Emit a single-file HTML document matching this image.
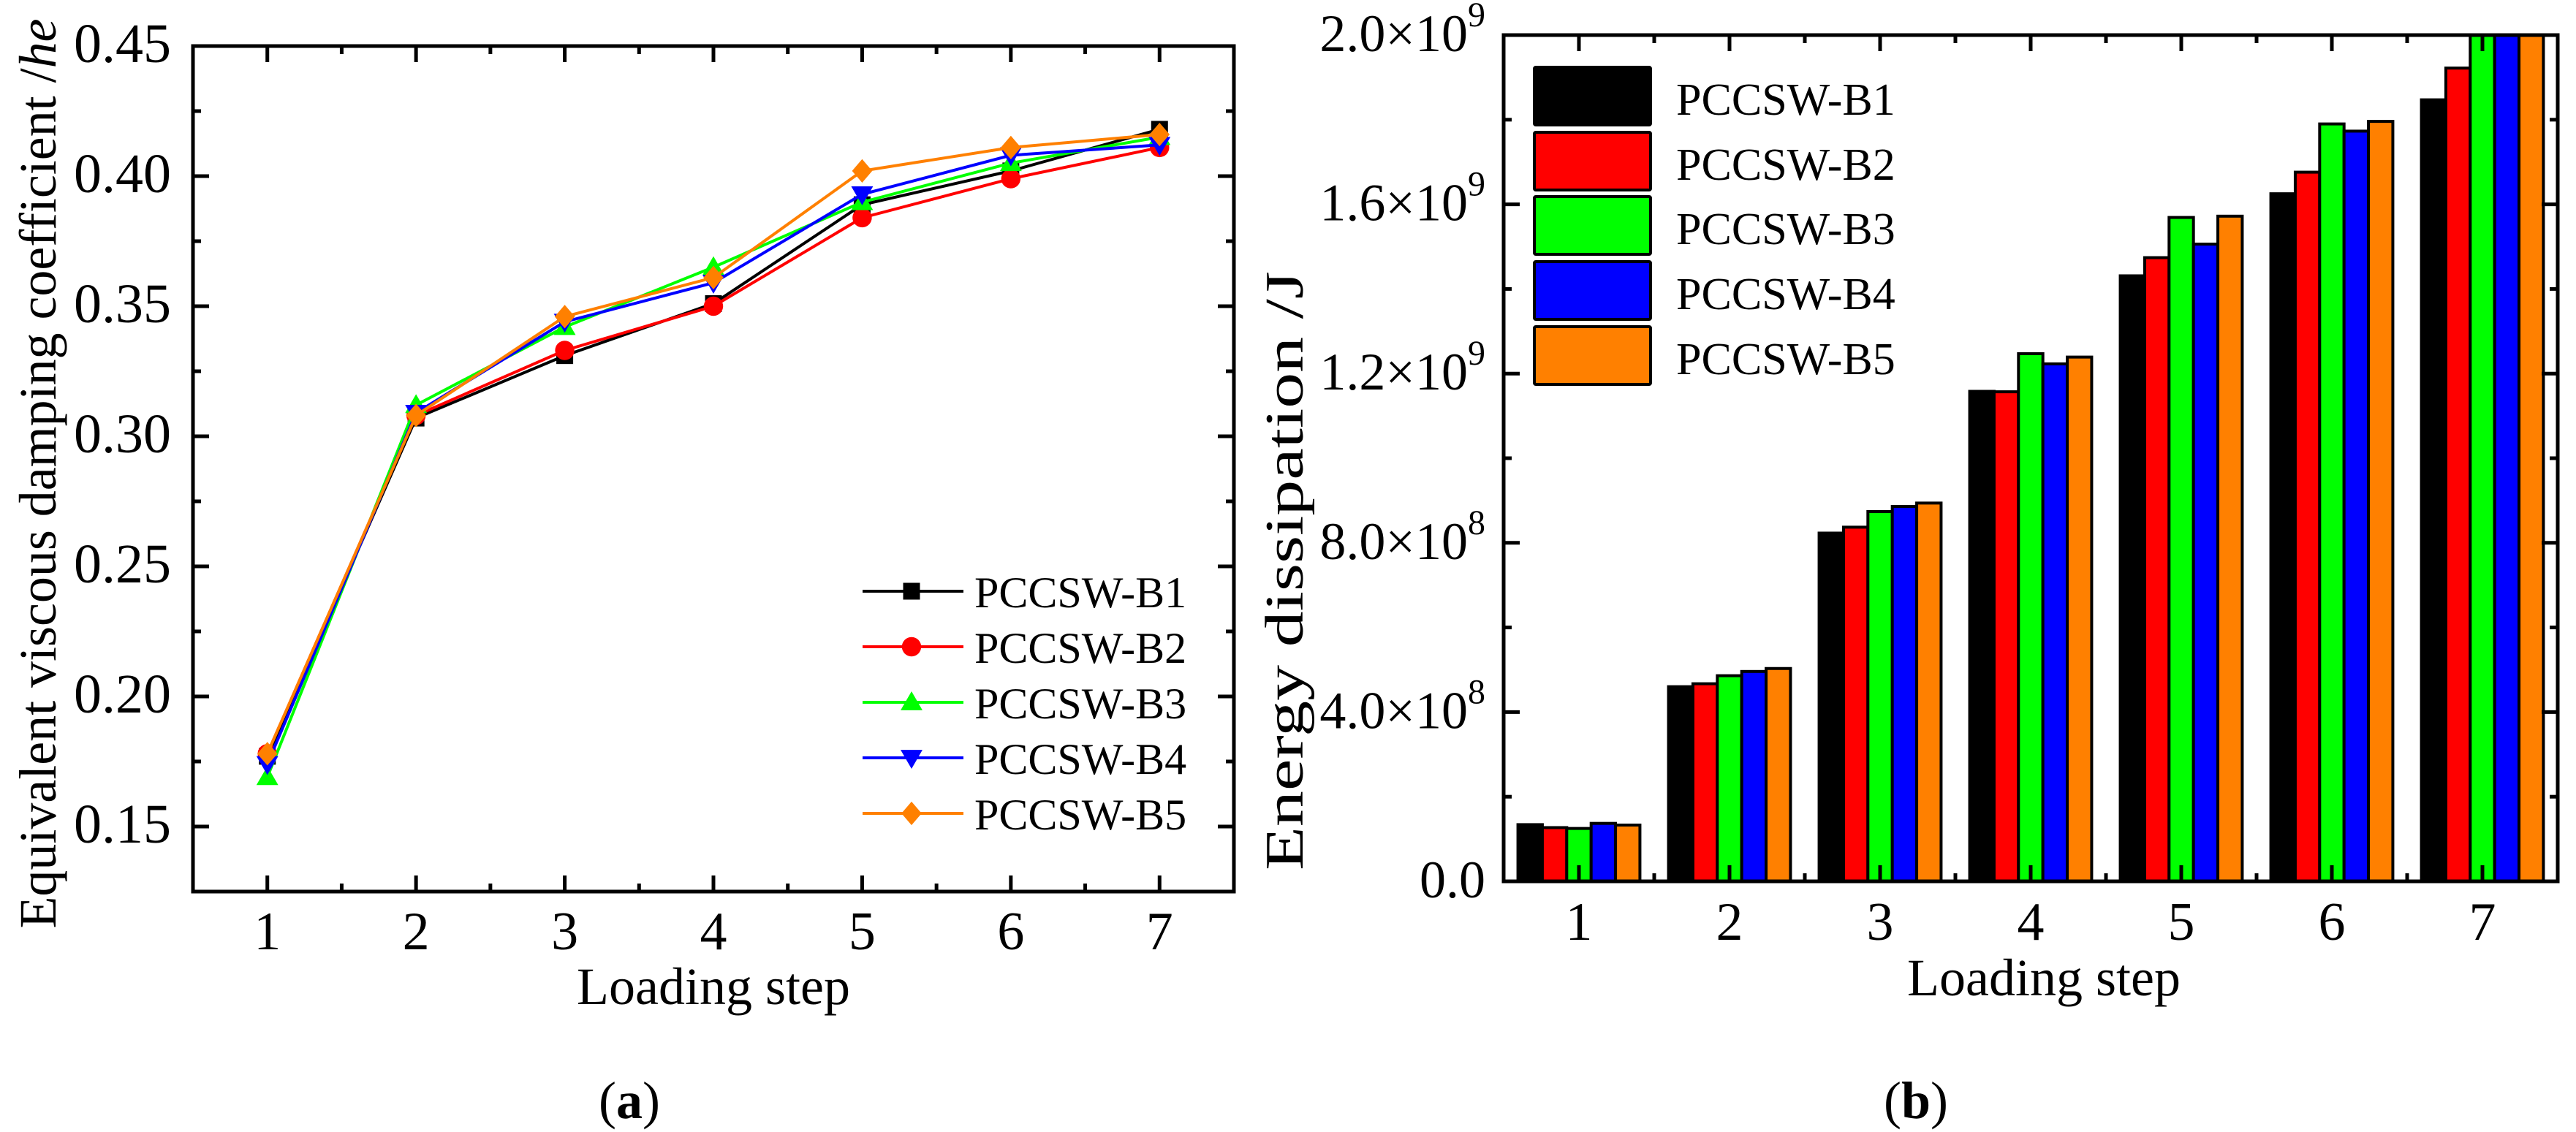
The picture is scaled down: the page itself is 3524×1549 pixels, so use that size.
<!DOCTYPE html>
<html><head><meta charset="utf-8"><style>
html,body{margin:0;padding:0;background:#fff;}
svg{display:block;font-family:"Liberation Serif","Times New Roman",serif;}
svg text{font-family:"Liberation Serif","Times New Roman",serif;}
</style></head><body>
<svg id="fig" width="3524" height="1549" viewBox="0 0 3524 1549" xmlns="http://www.w3.org/2000/svg" font-family="Liberation Serif, serif">
<defs><clipPath id="clipB"><rect x="2057" y="48" width="1442" height="1158"/></clipPath></defs>
<g id="chartA"></g>
<g id="chartB"></g>
</svg>
<script>
const steps = [1,2,3,4,5,6,7];
const seriesNames = ["PCCSW-B1","PCCSW-B2","PCCSW-B3","PCCSW-B4","PCCSW-B5"];
const seriesColors = ["#000000","#ff0000","#00ff00","#0000ff","#ff8000"];
const dampB1 = [0.177,0.307,0.331,0.351,0.389,0.402,0.418];
const dampB2 = [0.178,0.308,0.333,0.350,0.384,0.399,0.411];
const dampB3 = [0.169,0.312,0.342,0.365,0.390,0.405,0.415];
const dampB4 = [0.174,0.309,0.344,0.359,0.393,0.408,0.412];
const dampB5 = [0.178,0.308,0.346,0.361,0.402,0.411,0.416];
const dampTicks = ["0.15","0.20","0.25","0.30","0.35","0.40","0.45"];
const energyB1 = [0.134,0.460,0.823,1.158,1.431,1.625,1.847];
const energyB2 = [0.127,0.467,0.837,1.157,1.474,1.676,1.922];
const energyB3 = [0.125,0.486,0.874,1.247,1.569,1.790,2.05];
const energyB4 = [0.137,0.496,0.886,1.223,1.506,1.773,2.10];
const energyB5 = [0.133,0.503,0.894,1.239,1.572,1.796,2.15];
const energyTicks = ["0.0","4.0","8.0","1.2","1.6","2.0"];
const energyTickVals = [0,0.4,0.8,1.2,1.6,2.0];
const energyTickExp = ["","8","8","9","9","9"];

const NS="http://www.w3.org/2000/svg";
function mk(parent,tag,attrs,text){const e=document.createElementNS(NS,tag);for(const k in attrs)e.setAttribute(k,attrs[k]);if(text!==undefined)e.textContent=text;parent.appendChild(e);return e;}

// ---------- Chart A ----------
const A=document.getElementById('chartA');
const aL=264,aR=1688,aT=63,aB=1220;
const ax=v=>aL+(v-0.5)/7*(aR-aL);
const ay=v=>aB-(v-0.125)/(0.45-0.125)*(aB-aT);
const dampData=[dampB1,dampB2,dampB3,dampB4,dampB5];
for(let i=0;i<7;i++){
  const s=steps[i];
  let t=mk(A,'line',{x1:ax(s),x2:ax(s),y1:aB,y2:aB-22,stroke:'#000','stroke-width':5});
  
  mk(A,'line',{x1:ax(s),x2:ax(s),y1:aT,y2:aT+22,stroke:'#000','stroke-width':5});
  const lb=mk(A,'text',{x:ax(s),y:aB+79,'font-size':74,'text-anchor':'middle'},String(s));
  
}
for(let i=1;i<7;i++){const s=0.5+i;
  mk(A,'line',{x1:ax(s),x2:ax(s),y1:aB,y2:aB-11,stroke:'#000','stroke-width':5});
  mk(A,'line',{x1:ax(s),x2:ax(s),y1:aT,y2:aT+11,stroke:'#000','stroke-width':5});}
dampTicks.forEach(lbl=>{const v=parseFloat(lbl);
  mk(A,'line',{x1:aL,x2:aL+22,y1:ay(v),y2:ay(v),stroke:'#000','stroke-width':5});
  mk(A,'line',{x1:aR,x2:aR-22,y1:ay(v),y2:ay(v),stroke:'#000','stroke-width':5});
  const t=mk(A,'text',{x:234,y:ay(v)+22,'font-size':76,'text-anchor':'end'},lbl);
  });
for(let v=0.125;v<0.45;v+=0.05){
  mk(A,'line',{x1:aL,x2:aL+11,y1:ay(v),y2:ay(v),stroke:'#000','stroke-width':5});
  mk(A,'line',{x1:aR,x2:aR-11,y1:ay(v),y2:ay(v),stroke:'#000','stroke-width':5});}
const fa=mk(A,'rect',{x:aL,y:aT,width:aR-aL,height:aB-aT,fill:'none',stroke:'#000','stroke-width':5});

function marker(g,i,x,y,s){
  const c=seriesColors[i];
  if(i===0) return mk(g,'rect',{x:x-s,y:y-s,width:2*s,height:2*s,fill:c});
  if(i===1) return mk(g,'circle',{cx:x,cy:y,r:s*1.15,fill:c});
  if(i===2) return mk(g,'polygon',{points:`${x},${y-s*1.3} ${x-s*1.3},${y+s*0.95} ${x+s*1.3},${y+s*0.95}`,fill:c});
  if(i===3) return mk(g,'polygon',{points:`${x},${y+s*1.3} ${x-s*1.3},${y-s*0.95} ${x+s*1.3},${y-s*0.95}`,fill:c});
  return mk(g,'polygon',{points:`${x},${y-s*1.4} ${x+s*1.2},${y} ${x},${y+s*1.4} ${x-s*1.2},${y}`,fill:c});
}
dampData.forEach((arr,i)=>{
  const g=mk(A,'g',{});
  
  
  mk(g,'polyline',{points:arr.map((v,j)=>ax(steps[j])+','+ay(v)).join(' '),fill:'none',stroke:seriesColors[i],'stroke-width':4});
  arr.forEach((v,j)=>{const m=marker(g,i,ax(steps[j]),ay(v),11.5);
    });
});
const legA=[809,885,961,1037,1113];
seriesNames.forEach((n,i)=>{
  const g=mk(A,'g',{});
  
  mk(g,'line',{x1:1180,x2:1318,y1:legA[i],y2:legA[i],stroke:seriesColors[i],'stroke-width':4});
  marker(g,i,1247,legA[i],11.5);
  mk(g,'text',{x:1333,y:legA[i]+22,'font-size':60},n);
});
let t=mk(A,'text',{x:976,y:1374,'font-size':72,'text-anchor':'middle'},'Loading step');

t=mk(A,'text',{x:0,y:0,'font-size':72,'text-anchor':'middle',transform:'translate(76,648) rotate(-90)',textLength:1245,lengthAdjust:'spacingAndGlyphs'});

t.appendChild(document.createTextNode('Equivalent viscous damping coefficient /'));
mk(t,'tspan',{'font-style':'italic'},'he');
t=mk(A,'text',{x:861,y:1530,'font-size':72,'text-anchor':'middle'});

t.appendChild(document.createTextNode('('));mk(t,'tspan',{'font-weight':'bold'},'a');t.appendChild(document.createTextNode(')'));

// ---------- Chart B ----------
const B=document.getElementById('chartB');
const bL=2057,bR=3499,bT=48,bB=1206;
const bx=v=>bL+(v-0.5)/7*(bR-bL);
const by=v=>bB-v/2.0*(bB-bT);
const energyData=[energyB1,energyB2,energyB3,energyB4,energyB5];
const stepW=(bR-bL)/7;
const barsG=mk(B,'g',{'clip-path':'url(#clipB)'});

energyData.forEach((arr,i)=>{
  arr.forEach((v,j)=>{
    const x0=bx(steps[j])-0.405*stepW+i*0.162*stepW;
    const r=mk(barsG,'rect',{x:x0,y:by(v),width:0.162*stepW,height:bB-by(v),fill:seriesColors[i],stroke:'#000','stroke-width':4});
    
    
  });
});
for(let i=0;i<7;i++){const s=steps[i];
  mk(B,'line',{x1:bx(s),x2:bx(s),y1:bB,y2:bB-22,stroke:'#000','stroke-width':5});
  mk(B,'line',{x1:bx(s),x2:bx(s),y1:bT,y2:bT+22,stroke:'#000','stroke-width':5});
  const lb=mk(B,'text',{x:bx(s),y:bB+80,'font-size':74,'text-anchor':'middle'},String(s));
  }
for(let i=1;i<7;i++){const s=0.5+i;
  mk(B,'line',{x1:bx(s),x2:bx(s),y1:bB,y2:bB-11,stroke:'#000','stroke-width':5});
  mk(B,'line',{x1:bx(s),x2:bx(s),y1:bT,y2:bT+11,stroke:'#000','stroke-width':5});}
energyTickVals.forEach((v,i)=>{
  mk(B,'line',{x1:bL,x2:bL+22,y1:by(v),y2:by(v),stroke:'#000','stroke-width':5});
  mk(B,'line',{x1:bR,x2:bR-22,y1:by(v),y2:by(v),stroke:'#000','stroke-width':5});
  const tt=mk(B,'text',{x:2032,y:by(v)+22,'font-size':72,'text-anchor':'end'});
  
  if(energyTickExp[i]===''){tt.textContent=energyTicks[i];}
  else{tt.appendChild(document.createTextNode(energyTicks[i]+'\u00d710'));
    mk(tt,'tspan',{'font-size':48,dy:-34},energyTickExp[i]);}
});
for(let v=0.2;v<2.0;v+=0.4){
  mk(B,'line',{x1:bL,x2:bL+11,y1:by(v),y2:by(v),stroke:'#000','stroke-width':5});
  mk(B,'line',{x1:bR,x2:bR-11,y1:by(v),y2:by(v),stroke:'#000','stroke-width':5});}
const fb=mk(B,'rect',{x:bL,y:bT,width:bR-bL,height:bB-bT,fill:'none',stroke:'#000','stroke-width':5});

const legB=[92,181,269,358,447];
seriesNames.forEach((n,i)=>{
  const g=mk(B,'g',{});
  
  mk(g,'rect',{x:2099,y:legB[i],width:159,height:79,fill:seriesColors[i],stroke:'#000','stroke-width':4,rx:2});
  mk(g,'text',{x:2293,y:legB[i]+65,'font-size':62},n);
});
t=mk(B,'text',{x:2796,y:1362,'font-size':72,'text-anchor':'middle'},'Loading step');

t=mk(B,'text',{x:0,y:0,'font-size':74,'text-anchor':'middle',transform:'translate(1782,781) rotate(-90)',textLength:820,lengthAdjust:'spacingAndGlyphs'},'Energy dissipation /J');

t=mk(B,'text',{x:2621,y:1530,'font-size':72,'text-anchor':'middle'});

t.appendChild(document.createTextNode('('));mk(t,'tspan',{'font-weight':'bold'},'b');t.appendChild(document.createTextNode(')'));
</script>
</body></html>
